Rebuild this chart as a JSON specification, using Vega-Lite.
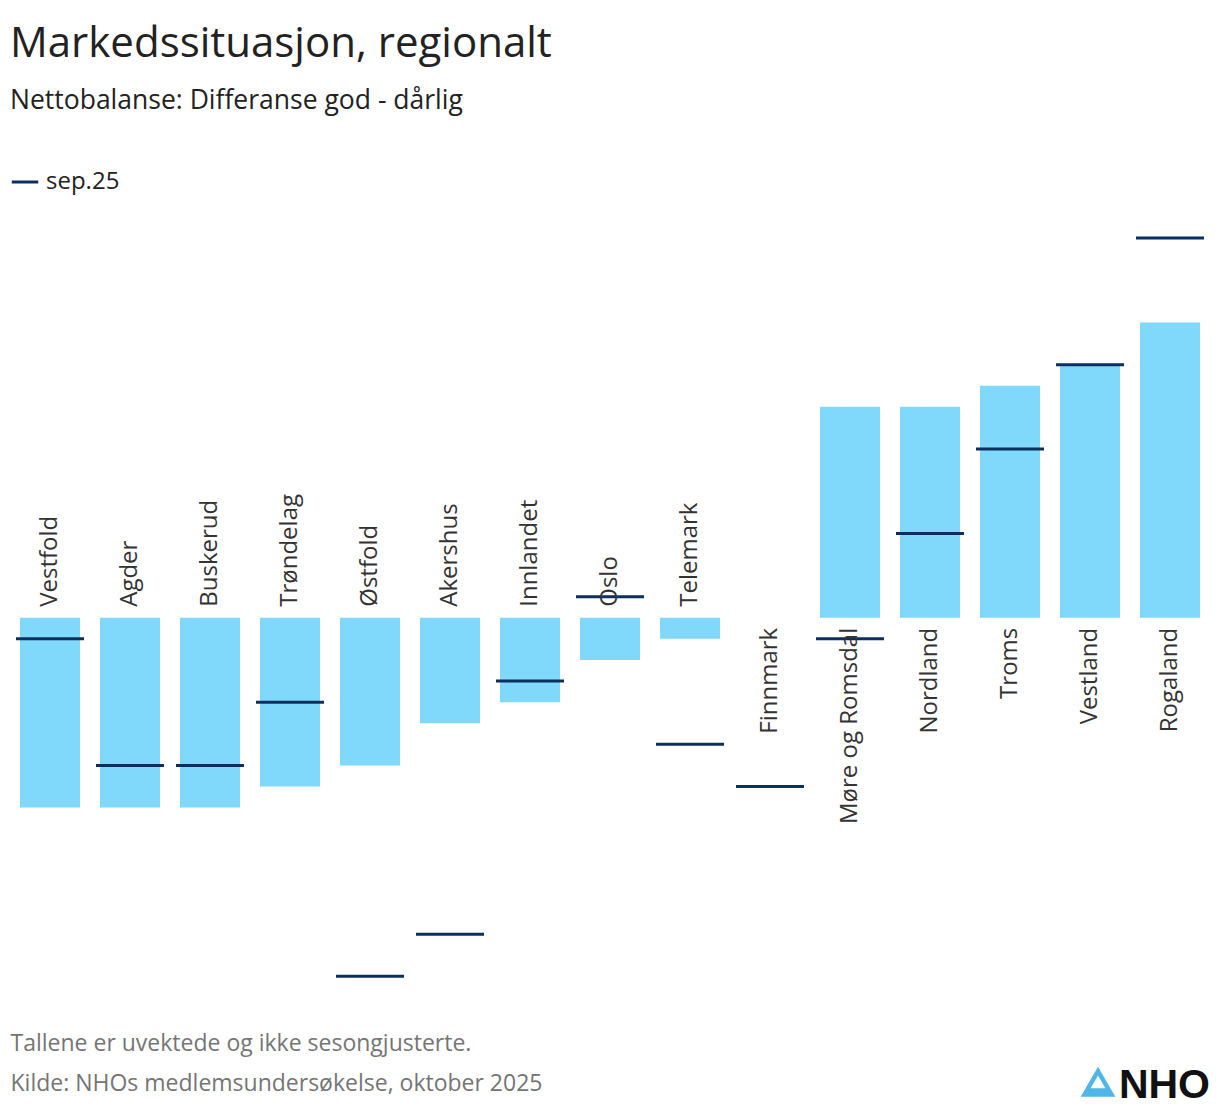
{
  "$schema": "https://vega.github.io/schema/vega-lite/v6.json",
  "autosize": {"type": "none"},
  "width": 1200,
  "height": 791,
  "padding": {"left": 10, "top": 217, "right": 10, "bottom": 104},
  "background": "white",
  "config": {
    "font": "Open Sans",
    "view": {"stroke": null}
  },
  "title": {
    "text": "Markedssituasjon, regionalt",
    "subtitle": "Nettobalanse: Differanse god - dårlig",
    "anchor": "start",
    "frame": "group",
    "fontSize": 42,
    "fontWeight": "normal",
    "color": "#222222",
    "subtitleFontSize": 26.5,
    "subtitleColor": "#222222",
    "subtitlePadding": 22,
    "offset": 52
  },
  "data": {
    "values": [
      {"region": "Vestfold", "value": -9, "sep25": -1},
      {"region": "Agder", "value": -9, "sep25": -7},
      {"region": "Buskerud", "value": -9, "sep25": -7},
      {"region": "Trøndelag", "value": -8, "sep25": -4},
      {"region": "Østfold", "value": -7, "sep25": -17},
      {"region": "Akershus", "value": -5, "sep25": -15},
      {"region": "Innlandet", "value": -4, "sep25": -3},
      {"region": "Oslo", "value": -2, "sep25": 1},
      {"region": "Telemark", "value": -1, "sep25": -6},
      {"region": "Finnmark", "value": 0, "sep25": -8},
      {"region": "Møre og Romsdal", "value": 10, "sep25": -1},
      {"region": "Nordland", "value": 10, "sep25": 4},
      {"region": "Troms", "value": 11, "sep25": 8},
      {"region": "Vestland", "value": 12, "sep25": 12},
      {"region": "Rogaland", "value": 14, "sep25": 18}
    ]
  },
  "encoding": {
    "x": {
      "field": "region",
      "type": "nominal",
      "sort": null,
      "scale": {"paddingInner": 0.25, "paddingOuter": 0.125},
      "axis": {
        "labels": false,
        "ticks": false,
        "domain": false,
        "title": ["Tallene er uvektede og ikke sesongjusterte.", "Kilde: NHOs medlemsundersøkelse, oktober 2025"],
        "titleFontSize": 23,
        "titleFontWeight": "normal",
        "titleColor": "#757575",
        "titleAnchor": "start",
        "titleAlign": "left",
        "titleBaseline": "top",
        "titleLineHeight": 40,
        "titlePadding": 24
      }
    }
  },
  "layer": [
    {
      "mark": {"type": "bar", "color": "#80d9fb"},
      "encoding": {
        "y": {
          "field": "value",
          "type": "quantitative",
          "scale": {"domain": [-18.5, 19], "nice": false, "zero": true},
          "axis": null
        }
      }
    },
    {
      "mark": {"type": "rule", "color": "#333333", "strokeWidth": 2},
      "encoding": {"y": {"datum": 0}}
    },
    {
      "mark": {"type": "tick", "thickness": 3, "size": 68, "opacity": 1},
      "encoding": {
        "y": {"field": "sep25", "type": "quantitative"},
        "color": {
          "datum": "sep.25",
          "scale": {"range": ["#0b2f5f"]},
          "legend": {
            "title": null,
            "orient": "none",
            "legendX": 0,
            "legendY": -50,
            "symbolType": "stroke",
            "symbolStrokeColor": "#0b2f5f",
            "symbolStrokeWidth": 3,
            "symbolOpacity": 1,
            "symbolSize": 700,
            "labelFontSize": 24,
            "labelColor": "#222222",
            "labelOffset": 6
          }
        }
      }
    },
    {
      "transform": [{"filter": "datum.value < 0"}],
      "mark": {"type": "text", "angle": 270, "align": "left", "baseline": "middle", "dx": 11, "fontSize": 24, "color": "#333333"},
      "encoding": {"y": {"datum": 0}, "text": {"field": "region"}}
    },
    {
      "transform": [{"filter": "datum.value >= 0"}],
      "mark": {"type": "text", "angle": 270, "align": "right", "baseline": "middle", "dx": -10, "fontSize": 24, "color": "#333333"},
      "encoding": {"y": {"datum": 0}, "text": {"field": "region"}}
    },
    {
      "data": {"values": [{"logo": "NHO"}]},
      "mark": {"type": "point", "shape": "triangle-up", "filled": true, "size": 1200, "color": "#4fb6e6", "opacity": 1},
      "encoding": {"x": {"datum": "Vestland"}, "xOffset": {"value": 38}, "y": {"datum": -22.0}}
    },
    {
      "data": {"values": [{"logo": "NHO"}]},
      "mark": {"type": "point", "shape": "triangle-up", "filled": true, "size": 220, "color": "white", "opacity": 1},
      "encoding": {"x": {"datum": "Vestland"}, "xOffset": {"value": 38}, "y": {"datum": -22.0}}
    },
    {
      "data": {"values": [{"logo": "NHO"}]},
      "mark": {"type": "text", "align": "right", "baseline": "middle", "dx": 40, "fontSize": 41, "fontWeight": "bold", "font": "Liberation Sans", "color": "#111111"},
      "encoding": {"x": {"datum": "Rogaland"}, "y": {"datum": -22.2}, "text": {"field": "logo"}}
    }
  ]
}
